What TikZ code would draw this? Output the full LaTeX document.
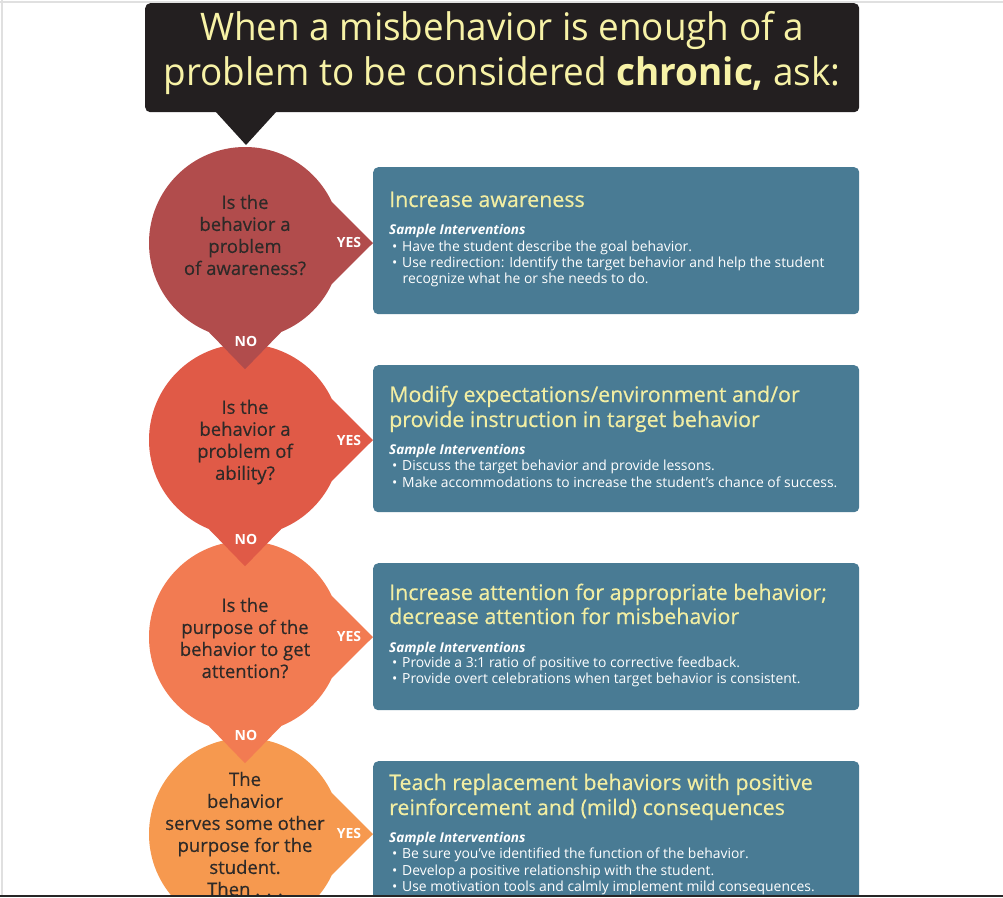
\documentclass[tikz,border=0pt]{standalone}
\usepackage{fontspec}
\setmainfont{Open Sans}
\newfontfamily\titlefont[FakeStretch=0.97]{Open Sans}
\newfontfamily\headfont[FakeBold=0.5]{Open Sans}
\newfontfamily\qfont[FakeBold=0.4]{Open Sans}
\usetikzlibrary{calc}
\definecolor{titlebg}{HTML}{231F20}
\definecolor{titletext}{HTML}{F7F2A6}
\definecolor{cone}{HTML}{B14C4C}
\definecolor{ctwo}{HTML}{E05A47}
\definecolor{cthree}{HTML}{F27B52}
\definecolor{cfour}{HTML}{F6994F}
\definecolor{boxc}{HTML}{497B94}
\definecolor{headc}{HTML}{F2EEA3}
\definecolor{qtextc}{HTML}{2E2A28}
\tikzset{
  qcircle/.style={circle, minimum size=192pt, inner sep=0pt},
  qtext/.style={align=center, font=\qfont\fontsize{18.5}{22}\selectfont, text=qtextc, inner sep=0pt},
  yesno/.style={font=\bfseries\fontsize{14}{16}\selectfont, text=white, inner sep=0pt},
  answer/.style={rounded corners=5pt, fill=boxc, minimum width=486pt, anchor=north west, inner sep=0pt},
  headtext/.style={font=\headfont\fontsize{21.4}{24}\selectfont, text=headc, anchor=base west, inner sep=0pt},
  sampletext/.style={font=\bfseries\itshape\fontsize{13.5}{16}\selectfont, text=white, anchor=base west, inner sep=0pt},
  bodytext/.style={font=\fontsize{13.9}{16}\selectfont, text=white, anchor=base west, inner sep=0pt},
  titleline/.style={font=\titlefont\fontsize{38}{45}\selectfont, text=titletext, anchor=base, inner sep=0pt},
}
\newcommand{\itemline}[3]{\node[bodytext] (#1) at (#2) {\makebox[10pt][l]{\textbullet}#3};}
\newcommand{\contline}[3]{\node[bodytext] (#1) at (#2) {\hspace{10.5pt}#3};}
\begin{document}
\begin{tikzpicture}[x=1pt,y=-1pt]
\useasboundingbox (0,0) rectangle (1003,897);
\fill[white] (0,0) rectangle (1003,897);
\begin{scope}
\clip (0,0) rectangle (1003,895);
% answer boxes
\node[answer, minimum height=147pt] (a1) at (373,167) {};
\node[answer, minimum height=147pt] (a2) at (373,365) {};
\node[answer, minimum height=147pt] (a3) at (373,563) {};
\node[answer, minimum height=160pt] (a4) at (373,761) {};
% circles drawn bottom-up
\node[qcircle, fill=cfour] (q4) at (245,834) {};
\coordinate (y4) at (q4 -| a4.west);
\fill[cfour] (q4.25) -- (y4) -- (q4.-25) -- cycle;
\node[qcircle, fill=cthree] (q3) at (245,637) {};
\coordinate (y3) at (q3 -| a3.west);
\coordinate (n3) at ($(q3.south)+(0,30)$);
\fill[cthree] (q3.25) -- (y3) -- (q3.-25) -- cycle;
\fill[cthree] (q3.-68) -- (n3) -- (q3.-112) -- cycle;
\node[qcircle, fill=ctwo] (q2) at (245,440) {};
\coordinate (y2) at (q2 -| a2.west);
\coordinate (n2) at ($(q2.south)+(0,30)$);
\fill[ctwo] (q2.25) -- (y2) -- (q2.-25) -- cycle;
\fill[ctwo] (q2.-68) -- (n2) -- (q2.-112) -- cycle;
\node[qcircle, fill=cone] (q1) at (245,243) {};
\coordinate (y1) at (q1 -| a1.west);
\coordinate (n1) at ($(q1.south)+(0,30)$);
\fill[cone] (q1.25) -- (y1) -- (q1.-25) -- cycle;
\fill[cone] (q1.-68) -- (n1) -- (q1.-112) -- cycle;
% title
\node[fill=titlebg, rounded corners=5pt, minimum width=714pt, minimum height=109pt, anchor=north west, inner sep=0pt] (title) at (145,3) {};
\coordinate (tp) at (246,145);
\fill[titlebg] (215,111) -- (tp) -- (277,111) -- cycle;
\node[titleline] (tl1) at (502,40) {When a misbehavior is enough of a};
\node[titleline] (tl2) at (502,85) {problem to be considered \textbf{chronic,} ask:};
% question texts
\node[qtext] (t1) at (245,235) {Is the\\behavior a\\problem\\of awareness?};
\node[qtext] (t2) at (245,442) {Is the\\behavior a\\problem of\\ability?};
\node[qtext] (t3) at (245,638) {Is the\\purpose of the\\behavior to get\\attention?};
\node[qtext] (t4) at (245,834) {The\\behavior\\serves some other\\purpose for the\\student.\\Then . . .};
% yes / no labels
\node[yesno] (yes1) at (349,242) {YES};
\node[yesno] (yes2) at (349,440) {YES};
\node[yesno] (yes3) at (349,636) {YES};
\node[yesno] (yes4) at (349,833) {YES};
\node[yesno] (no1) at (246,341) {NO};
\node[yesno] (no2) at (246,539) {NO};
\node[yesno] (no3) at (246,735) {NO};
% box 1
\node[headtext] (h1) at (389,207) {Increase awareness};
\node[sampletext] (s1) at (389,234) {Sample Interventions};
\itemline{b11}{392,251}{Have the student describe the goal behavior.}
\itemline{b12}{392,267}{Use redirection: Identify the target behavior and help the student}
\contline{b13}{392,283}{recognize what he or she needs to do.}
% box 2
\node[headtext] (h2a) at (389,402) {Modify expectations/environment and/or};
\node[headtext] (h2b) at (389,427) {provide instruction in target behavior};
\node[sampletext] (s2) at (389,454) {Sample Interventions};
\itemline{b21}{392,470}{Discuss the target behavior and provide lessons.}
\itemline{b22}{392,487}{Make accommodations to increase the student’s chance of success.}
% box 3
\node[headtext] (h3a) at (389,600) {Increase attention for appropriate behavior;};
\node[headtext] (h3b) at (389,624) {decrease attention for misbehavior};
\node[sampletext] (s3) at (389,652) {Sample Interventions};
\itemline{b31}{392,667}{Provide a 3:1 ratio of positive to corrective feedback.}
\itemline{b32}{392,683}{Provide overt celebrations when target behavior is consistent.}
% box 4
\node[headtext] (h4a) at (389,790) {Teach replacement behaviors with positive};
\node[headtext] (h4b) at (389,815) {reinforcement and (mild) consequences};
\node[sampletext] (s4) at (389,842) {Sample Interventions};
\itemline{b41}{392,858}{Be sure you’ve identified the function of the behavior.}
\itemline{b42}{392,875}{Develop a positive relationship with the student.}
\itemline{b43}{392,891}{Use motivation tools and calmly implement mild consequences.}
\end{scope}
% frame lines
\fill[black!12] (0,0.5) rectangle (1003,2.5);
\fill[black!12] (0.5,0) rectangle (2.5,895);
\fill[black!85] (0,895) rectangle (1003,897);
\end{tikzpicture}
\end{document}
